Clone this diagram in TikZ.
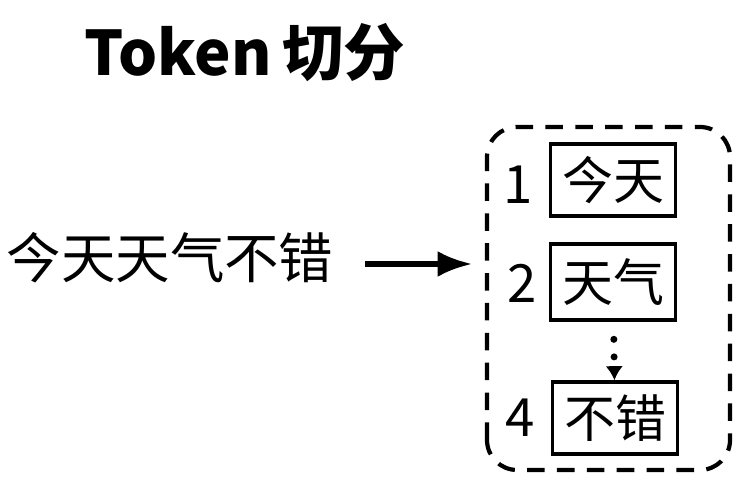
\documentclass[tikz,border=0pt]{standalone}
\usepackage{fontspec}
\newfontfamily\cjk{Noto Sans CJK SC}
\usetikzlibrary{arrows.meta, positioning}

\begin{document}
\begin{tikzpicture}[>=Latex,
        tokbox/.style={draw, line width=1pt, minimum width=1.25cm, minimum height=0.72cm, inner sep=0pt, font=\cjk\fontsize{14.5}{14.5}\selectfont},
        idx/.style={font=\cjk\fontsize{15}{15}\selectfont}]
        \path[use as bounding box] (0, 0) rectangle (7.51, 4.83);
        % title
        \node (title) at (2.45, 4.30) {\cjk\bfseries\fontsize{17.5}{17.5}\selectfont Token\,切分};
        % input sentence and arrow
        \node (sent) at (1.70, 2.25) {\cjk\fontsize{15.5}{15.5}\selectfont 今天天气不错};
        \coordinate (arrS) at (3.65, 2.19);
        \coordinate (arrE) at (4.72, 2.19);
        \draw[->, line width=1.5pt] (arrS) -- (arrE);
        % token list
        \draw[line width=1.2pt, dash pattern=on 5pt off 3.5pt, rounded corners=0.3cm] (4.87, 0.13) rectangle (7.30, 3.56);
        \node[tokbox] (b1) at (6.13, 3.03) {今天};
        \node[tokbox, minimum height=0.76cm] (b2) at (6.13, 2.01) {天气};
        \node[tokbox] (b4) at (6.15, 0.65) {不错};
        \node[idx] (n1) at (5.18, 2.98) {1};
        \node[idx] (n2) at (5.22, 2.00) {2};
        \node[idx] (n4) at (5.20, 0.65) {4};
        \draw[-{Latex[length=4pt, width=5pt]}, line width=2pt, line cap=round, dash pattern=on 0pt off 5pt, shorten <=5pt] (b2) -- (b4);
    \end{tikzpicture}
\end{document}
